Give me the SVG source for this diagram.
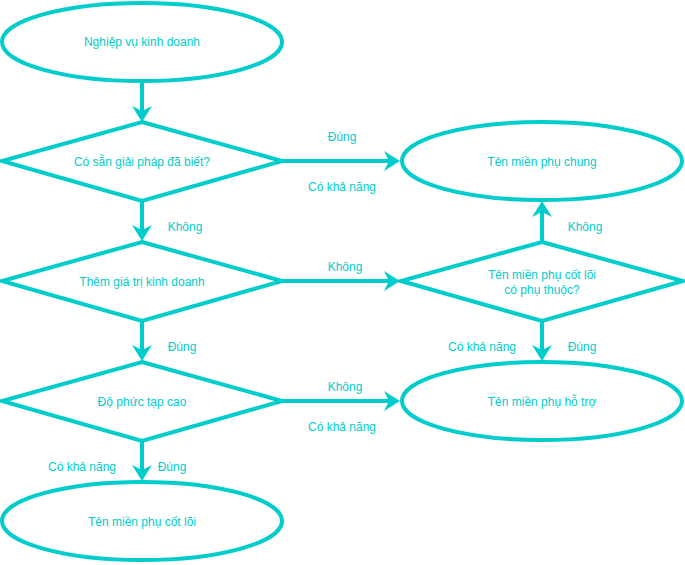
<svg xmlns="http://www.w3.org/2000/svg" width="685" height="565" viewBox="0 0 685 565">
<style>
.s{fill:#ffffff;stroke:#00cccc;stroke-width:4}
.e{fill:none;stroke:#00cccc;stroke-width:4}
text{font-family:"Liberation Sans",Arial,sans-serif;font-size:12px;fill:#00cccc;text-anchor:middle}
</style>
<defs>
<marker id="arr" viewBox="0 0 16 20" markerWidth="16" markerHeight="20" refX="5" refY="10" orient="auto" markerUnits="userSpaceOnUse">
<path d="M16,10 L0,0 L5,10 L0,20 Z" fill="#00cccc"/>
</marker>
</defs>
<g id="connectors">
<line class="e" x1="142" y1="81" x2="142" y2="111" marker-end="url(#arr)"/>
<line class="e" x1="282" y1="161" x2="389" y2="161" marker-end="url(#arr)"/>
<line class="e" x1="142" y1="201" x2="142" y2="230" marker-end="url(#arr)"/>
<line class="e" x1="282" y1="281" x2="389" y2="281" marker-end="url(#arr)"/>
<line class="e" x1="142" y1="321" x2="142" y2="350" marker-end="url(#arr)"/>
<line class="e" x1="282" y1="401" x2="389" y2="401" marker-end="url(#arr)"/>
<line class="e" x1="142" y1="441" x2="142" y2="470" marker-end="url(#arr)"/>
<line class="e" x1="542" y1="241" x2="542" y2="212" marker-end="url(#arr)"/>
<line class="e" x1="542" y1="321" x2="542" y2="350" marker-end="url(#arr)"/>
<text x="342" y="141">Đúng</text>
<text x="342" y="191">Có khả năng</text>
<text x="185" y="231">Không</text>
<text x="345" y="271">Không</text>
<text x="182" y="351">Đúng</text>
<text x="345" y="391">Không</text>
<text x="342" y="431">Có khả năng</text>
<text x="82" y="471">Có khả năng</text>
<text x="172" y="471">Đúng</text>
<text x="585" y="231">Không</text>
<text x="482" y="351">Có khả năng</text>
<text x="582" y="351">Đúng</text>
</g>
<g id="business">
<ellipse class="s" cx="142" cy="42" rx="140" ry="39"/>
<text x="142" y="46">Nghiệp vụ kinh doanh</text>
</g>
<g id="known-solution">
<polygon class="s" points="142,122 282,161 142,201 2,161"/>
<text x="142" y="166">Có sẵn giải pháp đã biết?</text>
</g>
<g id="business-value">
<polygon class="s" points="142,242 282,281 142,321 2,281"/>
<text x="142" y="286">Thêm giá trị kinh doanh</text>
</g>
<g id="complexity">
<polygon class="s" points="142,362 282,401 142,441 2,401"/>
<text x="142" y="406">Độ phức tạp cao</text>
</g>
<g id="core">
<ellipse class="s" cx="142" cy="521" rx="140" ry="39"/>
<text x="142" y="526">Tên miền phụ cốt lõi</text>
</g>
<g id="generic">
<ellipse class="s" cx="542" cy="161" rx="140" ry="39"/>
<text x="542" y="166">Tên miền phụ chung</text>
</g>
<g id="core-depends">
<polygon class="s" points="542,242 683,281 542,321 401,281"/>
<text x="542" y="279">Tên miền phụ cốt lõi</text>
<text x="542" y="294">có phụ thuộc?</text>
</g>
<g id="supporting">
<ellipse class="s" cx="542" cy="401" rx="140" ry="39"/>
<text x="542" y="406">Tên miền phụ hỗ trợ</text>
</g>
</svg>
